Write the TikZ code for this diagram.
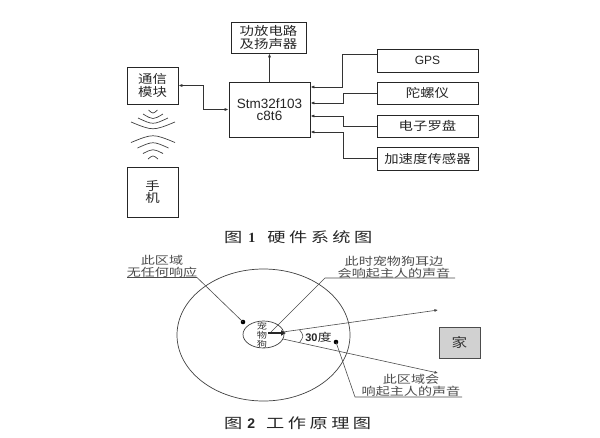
\documentclass[tikz,border=0pt]{standalone}
\usepackage{fontspec}
\setmainfont{Liberation Sans}
\newfontfamily\cjk[FakeStretch=1.2]{Noto Sans CJK SC}
\newfontfamily\cjkl[FakeStretch=1.28]{Noto Sans CJK SC}
\newfontfamily\cjkc[FakeStretch=1.3,LetterSpace=25]{Noto Sans CJK SC}
\newfontfamily\serifl{Liberation Serif}
\usetikzlibrary{arrows.meta,shapes.geometric}
\begin{document}
\begin{tikzpicture}[x=1pt,y=-1pt,
  box/.style={draw=black!85, line width=0.9pt, inner sep=0pt, align=center, text=black!85},
  cn/.style={font=\cjk\fontsize{12}{12.5}\selectfont},
  conn/.style={draw=black!80, line width=0.8pt},
  tip/.style={-{Latex[length=4pt,width=3.2pt]}},
  wave/.style={draw=black!75, line width=0.7pt},
  lbl/.style={font=\cjkl\fontsize{11}{12}\selectfont, text=black!70, align=center, inner sep=0pt},
  gline/.style={draw=black!70, line width=0.6pt},
  dotc/.style={fill=black, draw=none}
]
\useasboundingbox (0,0) rectangle (600,437);

% ---------- Figure 1 ----------
\node[box, cn, minimum width=75pt, minimum height=31pt] (amp) at (268.5,37.5) {功放电路\\及扬声器};
\node[box, cn, minimum width=51pt, minimum height=37pt] (comm) at (152.5,85.5) {通信\\模块};
\node[box, minimum width=81pt, minimum height=55pt, font=\fontsize{13.5}{12.5}\selectfont] (mcu) at (269.5,109.5) {Stm32f103\\c8t6};
\node[box, cn, minimum width=51pt, minimum height=50pt] (phone) at (152.5,192) {手\\机};
\node[box, minimum width=101pt, minimum height=23pt, font=\fontsize{12}{12}\selectfont] (gps) at (427.5,60.5) {GPS};
\node[box, cn, minimum width=101pt, minimum height=22pt] (gyro) at (427.5,93) {陀螺仪};
\node[box, cn, minimum width=101pt, minimum height=22pt] (comp) at (427.5,126) {电子罗盘};
\node[box, cn, minimum width=101pt, minimum height=23pt] (acc) at (427.5,158.5) {加速度传感器};

\draw[conn, tip] (mcu.north) -- (mcu.north |- amp.south);
\draw[conn, {Latex[length=4pt,width=3.2pt]}-{Latex[length=4pt,width=3.2pt]}] (comm.east) -- ++(25,0) |- (mcu.west);
\draw[conn, tip] ([yshift=6pt]gps.west) -- ++(-34,0) |- ([yshift=22.5pt]mcu.east);
\draw[conn, tip] (gyro.west) -- ++(-33,0) |- ([yshift=6.5pt]mcu.east);
\draw[conn, tip] (comp.west) -- ++(-33,0) |- ([yshift=-6.5pt]mcu.east);
\draw[conn, tip] (acc.west) -- ++(-33,0) |- ([yshift=-22.5pt]mcu.east);

% waves
\draw[wave] (148.5,110) .. controls (153,114) .. (157.5,110);
\draw[wave] (143,114) .. controls (153,120) .. (163,114);
\draw[wave] (138,118) .. controls (153,125) .. (168,118);
\draw[wave] (131,122) .. controls (153,131) .. (175,122);
\draw[wave] (131,142.5) .. controls (153,133.5) .. (175,142.5);
\draw[wave] (137.5,148) .. controls (153,141) .. (168.5,148);
\draw[wave] (143,153.5) .. controls (153,148.5) .. (163,153.5);
\draw[wave] (148,159) .. controls (153,155) .. (158,159);

\node[anchor=west, inner sep=0pt, text=black!85] (cap1) at (224,237)
  {{\cjkc\fontsize{14}{14}\selectfont 图}\hspace{6pt}{\serifl\bfseries\fontsize{14}{14}\selectfont 1}\hspace{12pt}{\cjkc\fontsize{14}{14}\selectfont 硬件系统图}};

% ---------- Figure 2 ----------
\node[ellipse, draw=black!75, line width=0.7pt, minimum width=173pt, minimum height=132pt, inner sep=0pt] (big) at (263.5,335) {};
\node[ellipse, draw=black!75, line width=0.7pt, minimum width=41pt, minimum height=27pt, inner sep=0pt] (dog) at (263.5,334.5) {};
\node[font=\cjk\fontsize{8.5}{8.8}\selectfont, align=center, inner sep=0pt, text=black!80] (dogtxt) at (262,335) {宠\\物\\狗};

\coordinate (a0) at (268,333);
\coordinate (a1) at (286,333);
\draw[black!85, line width=2.2pt, -{Latex[length=5pt,width=6pt]}] (a0) -- (a1);

\coordinate (o1) at (283,332);
\coordinate (t1) at (438,310);
\coordinate (o2) at (283,339);
\coordinate (t2) at (438,373);
\draw[gline, -{Latex[length=3.5pt,width=3pt]}] (o1) -- (t1);
\draw[gline, -{Latex[length=3.5pt,width=3pt]}] (o2) -- (t2);
\draw[gline] (299.5,329.8) .. controls (304,336) .. (299.5,342.6);
\node[inner sep=0pt, text=black!85] (ang) at (318.5,337) {{\bfseries\fontsize{11}{11}\selectfont 30}{\cjkl\fontsize{11}{11}\selectfont 度}};

\fill[dotc] (243,322) circle (2.3);
\coordinate (d1) at (243,322);
\fill[dotc] (336,342) circle (2.3);
\coordinate (d2) at (336,342);

% label 1
\node[lbl] (l1) at (162,266.5) {此区域\\无任何响应};
\coordinate (u1a) at (127,277.5);
\coordinate (u1b) at (197,277.5);
\draw[gline] (u1a) -- (u1b) -- (d1);

% label 2
\node[lbl] (l2) at (394,267) {此时宠物狗耳边\\会响起主人的声音};
\coordinate (u2a) at (455,278);
\coordinate (u2b) at (325,278);
\coordinate (u2c) at (271,332);
\draw[gline] (u2a) -- (u2b) -- (u2c);

% label 3
\node[lbl] (l3) at (411,385.5) {此区域会\\响起主人的声音};
\coordinate (u3a) at (462,397);
\coordinate (u3b) at (355,397);
\draw[gline] (u3a) -- (u3b) -- (d2);

% home
\node[draw=black!70, fill=black!18, line width=0.8pt, minimum width=41pt, minimum height=31pt, inner sep=0pt, font=\cjk\fontsize{13}{13}\selectfont, text=black!80] (home) at (459.5,342.5) {家};

\node[anchor=west, inner sep=0pt, text=black!85] (cap2) at (224,423)
  {{\cjkc\fontsize{14}{14}\selectfont 图}\hspace{5pt}{\bfseries\fontsize{14}{14}\selectfont 2}\hspace{11pt}{\cjkc\fontsize{14}{14}\selectfont 工作原理图}};
\end{tikzpicture}
\end{document}
